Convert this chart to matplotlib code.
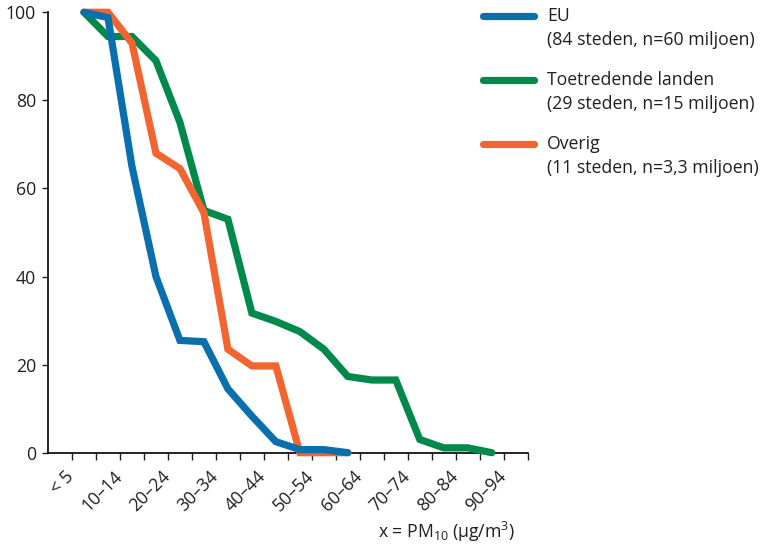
import matplotlib
matplotlib.use("Agg")
import matplotlib.pyplot as plt
import matplotlib.transforms as mtransforms
import numpy as np
from matplotlib.lines import Line2D

FS = 12.7

plt.rcParams.update({
    "font.family": ["Open Sans", "DejaVu Sans"],
    "font.size": FS,
    "mathtext.fontset": "custom",
    "mathtext.rm": "Open Sans",
    "mathtext.it": "Open Sans",
    "text.color": "#231f20",
    "axes.labelcolor": "#231f20",
    "xtick.color": "#231f20",
    "ytick.color": "#231f20",
})

# bin labels (every other boundary tick carries a label)
tick_labels = ["< 5", "10–14", "20–24", "30–34", "40–44",
               "50–54", "60–64", "70–74", "80–84", "90–94"]

# cumulative share of population (%) per PM10 class
eu = [100, 98.8, 65, 40, 25.5, 25.2, 14.5, 8.3, 2.5, 0.7, 0.7, 0]
toetredend = [100, 94.5, 94.5, 89, 75, 55, 53, 31.7, 29.8, 27.5, 23.5,
              17.3, 16.5, 16.5, 3, 1.1, 1.1, 0]
overig = [100, 100, 93, 68, 64.5, 54.5, 23.5, 19.7, 19.7, 0, 0, 0]

series = [
    ("EU", "(84 steden, n=60 miljoen)", eu, "#0a6fad"),
    ("Toetredende landen", "(29 steden, n=15 miljoen)", toetredend, "#00894a"),
    ("Overig", "(11 steden, n=3,3 miljoen)", overig, "#f26531"),
]

fig = plt.figure(figsize=(7.67, 5.46), dpi=100)
ax = fig.add_axes([0.0626, 0.1709, 0.6254, 0.8066])

# draw order: green first, then orange, blue on top
for idx in (1, 2, 0):
    name, sub, vals, col = series[idx]
    x = np.arange(len(vals)) + 1.5
    ax.plot(x, vals, color=col, lw=5.2, solid_capstyle="round",
            solid_joinstyle="miter", clip_on=False, zorder=3 + (idx == 0))

ax.set_xlim(0, 20)
ax.set_ylim(0, 100)
ax.set_yticks([0, 20, 40, 60, 80, 100])

ticks = np.arange(1, 21)
ax.set_xticks(ticks)
labels = []
for i, t in enumerate(ticks):
    labels.append(tick_labels[i // 2] if i % 2 == 0 else "")
ax.set_xticklabels(labels, rotation=45, ha="right", rotation_mode="anchor")
ax.tick_params(axis="x", length=5, width=1, pad=5, labelsize=FS)
ax.tick_params(axis="y", length=4.5, width=1, pad=4, labelsize=FS)

# nudge the slanted labels a little to the left, like the original
shift = mtransforms.ScaledTranslation(-0.07, -0.01, fig.dpi_scale_trans)
for lab in ax.get_xticklabels():
    lab.set_transform(lab.get_transform() + shift)

for s in ("top", "right"):
    ax.spines[s].set_visible(False)
for s in ("left", "bottom"):
    ax.spines[s].set_linewidth(1.2)

fig.text(0.6714, 0.0147, "x = PM$_{10}$ (µg/m$^3$)", ha="right",
         va="baseline", fontsize=FS)

# legend drawn by hand so the swatch sits on the first text line
y0 = 1 - 16 / 546
step = 64 / 546
for k, (name, sub, vals, col) in enumerate(series):
    y = y0 - k * step
    fig.add_artist(Line2D([0.6297, 0.6962], [y, y], color=col, lw=5.2,
                          solid_capstyle="round", transform=fig.transFigure))
    fig.text(0.7132, y, name, ha="left", va="center", fontsize=FS)
    fig.text(0.7132, y - 24 / 546, sub, ha="left", va="center", fontsize=FS)

fig.savefig("out.png", dpi=100, facecolor="white")
